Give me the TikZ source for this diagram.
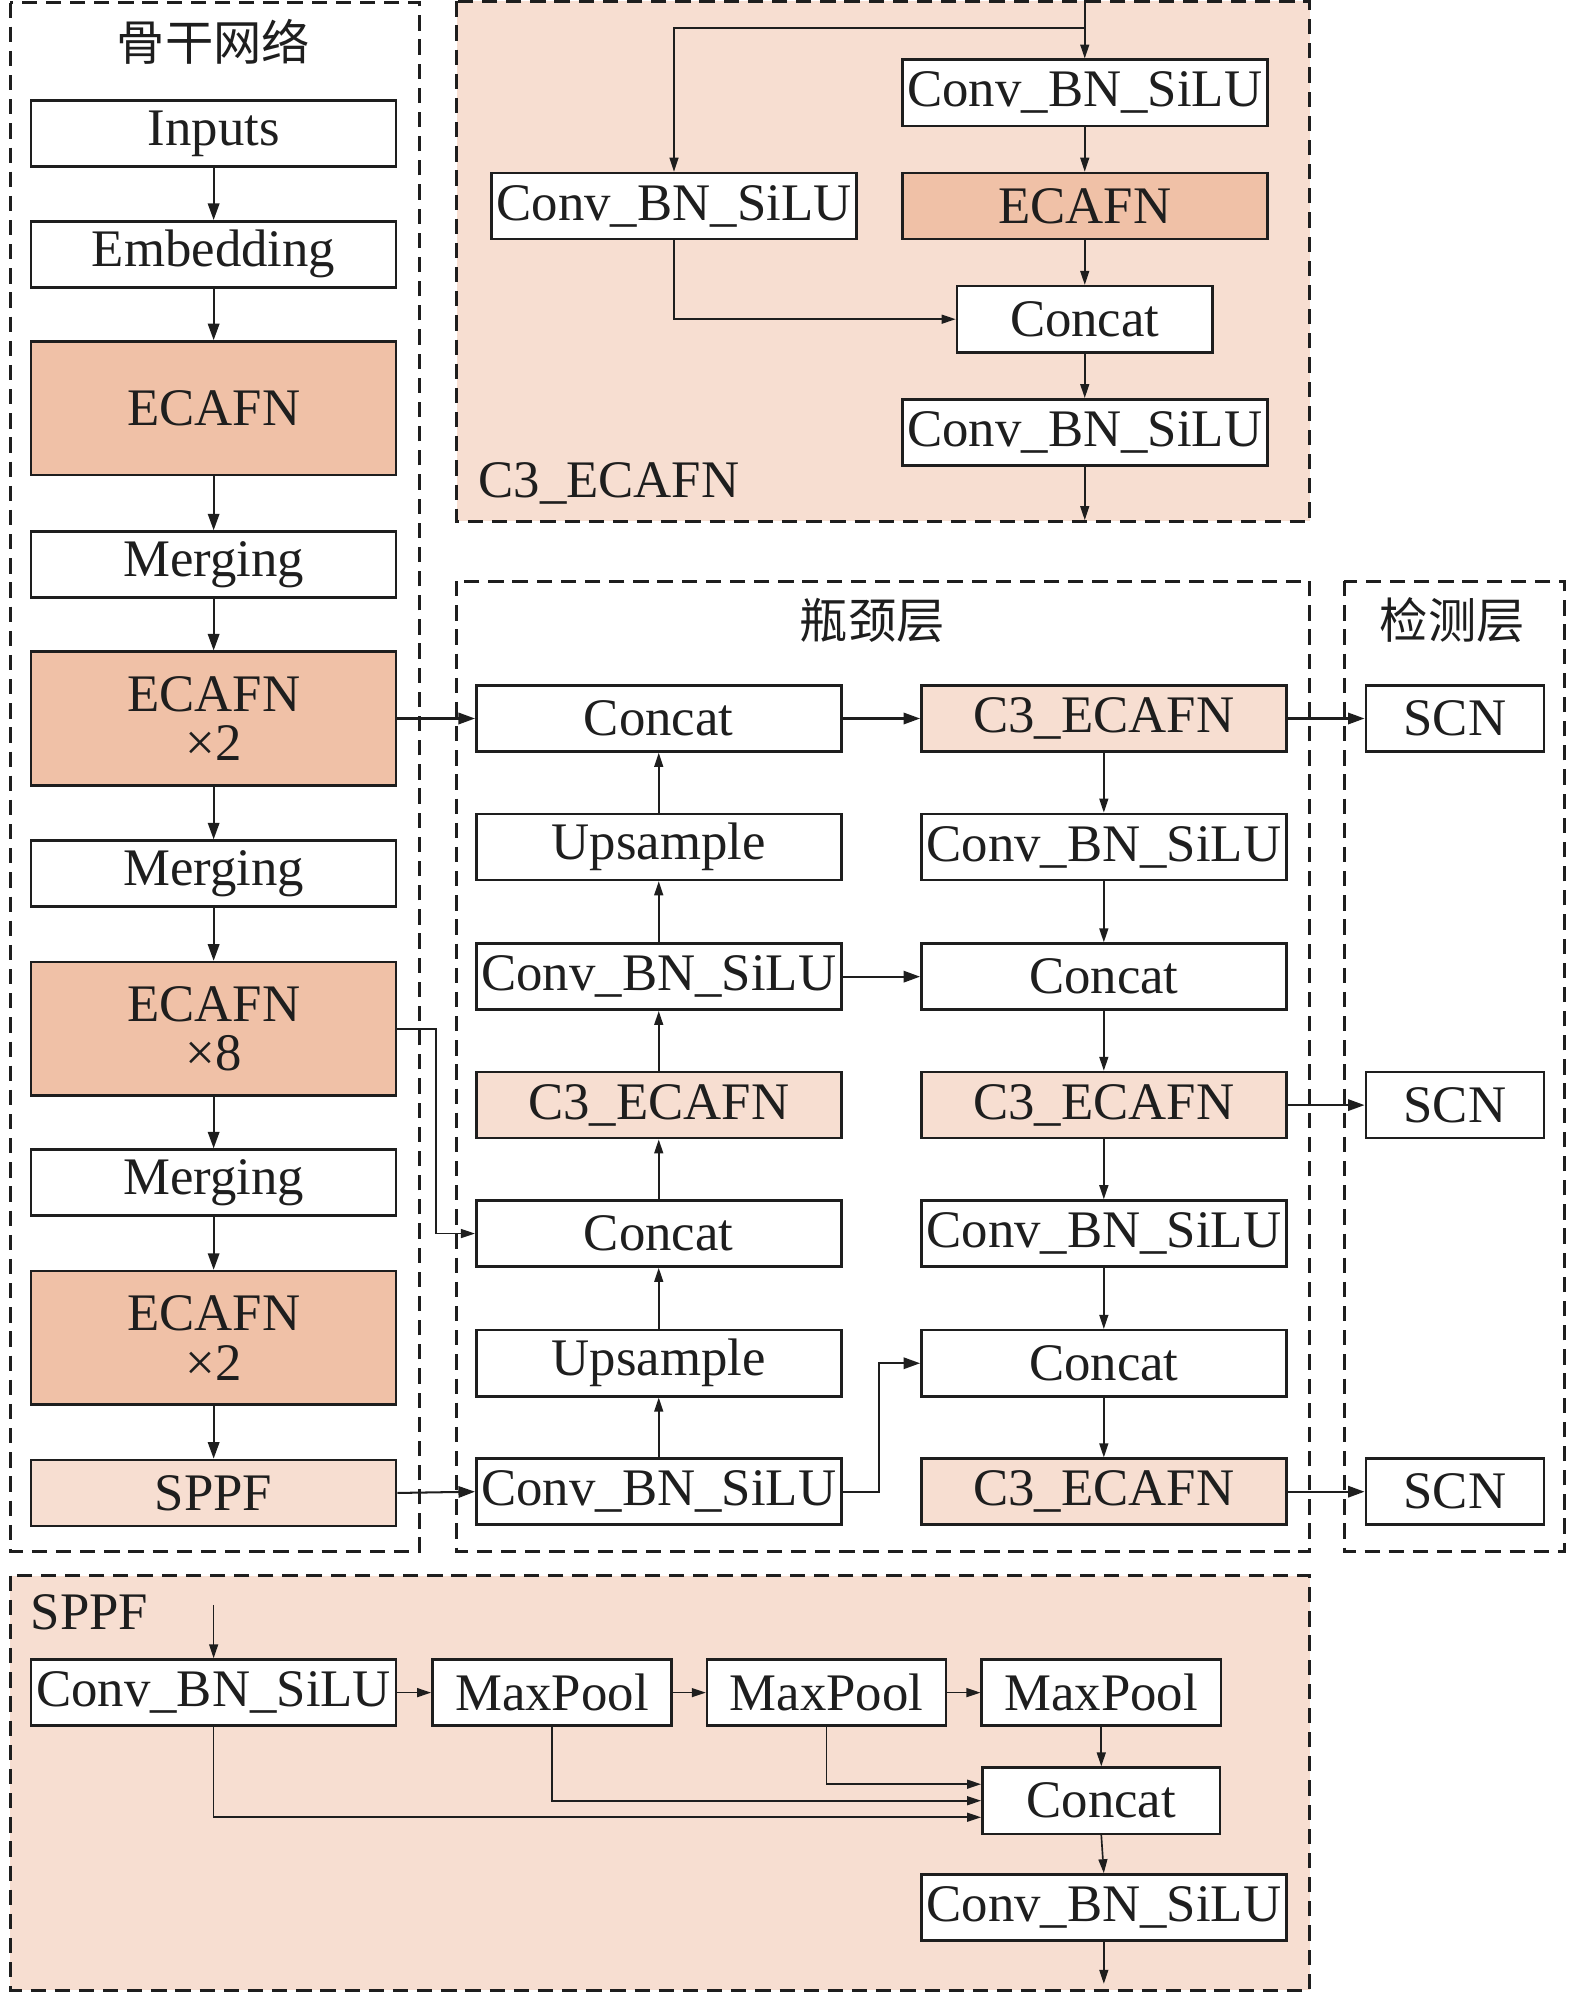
\documentclass[tikz,border=0pt]{standalone}
\usepackage{fontspec}
\setmainfont{Liberation Serif}
\newfontfamily\cjk{Noto Sans CJK SC}
\usetikzlibrary{arrows.meta}
\definecolor{darkpeach}{HTML}{F0C1A7}
\definecolor{lightpeach}{HTML}{F7DED1}
\definecolor{ink}{HTML}{1E1E1E}
\tikzset{
  box/.style={draw=ink, line width=2pt, fill=white, rectangle, inner sep=0pt,
    minimum height=52pt, font=\fontsize{41.5}{43}\selectfont, text=ink, align=center},
  wbox/.style={box, minimum width=287pt},
  tall/.style={box, minimum width=287pt, minimum height=105pt, fill=darkpeach},
  dk/.style={fill=darkpeach},
  lt/.style={fill=lightpeach},
  region/.style={draw=ink, line width=2.2pt, dash pattern=on 12pt off 7pt},
  arr/.style={draw=ink, line width=1.6pt, -{Triangle[length=13pt,width=9pt]}},
  sarr/.style={draw=ink, line width=1.3pt, -{Triangle[length=11pt,width=7pt]}},
  lbl/.style={font=\fontsize{41.5}{43}\selectfont, text=ink, inner sep=0pt},
  cjklbl/.style={font=\cjk\fontsize{38}{40}\selectfont, text=ink, inner sep=0pt}
}
\begin{document}
\begin{tikzpicture}[x=1pt,y=1pt]
\useasboundingbox (0,0) rectangle (1239,-1568);
% ---------- regions ----------
\fill[lightpeach] (359,-1) rectangle (1030,-410);
\draw[region] (359,-1) rectangle (1030,-410);
\fill[lightpeach] (8,-1239) rectangle (1030,-1565);
\draw[region] (8,-1239) rectangle (1030,-1565);
\draw[region] (8,-2) rectangle (330,-1220);
\draw[region] (359,-457) rectangle (1030,-1220);
\draw[region] (1057,-457) rectangle (1230,-1220);
\node[cjklbl] (tb) at (168,-33) {骨干网络};
\node[cjklbl] (tn) at (686,-488) {瓶颈层};
\node[cjklbl] (td) at (1142,-488) {检测层};
\node[lbl, anchor=west] (tc3) at (376,-380) {C3\_ECAFN};
\node[lbl, anchor=west] (tsp) at (24,-1268) {SPPF};
% ---------- backbone ----------
\node[wbox] (in) at (168,-105) {Inputs};
\node[wbox] (emb) at (168,-200) {Embedding};
\node[tall] (e1) at (168,-321) {ECAFN};
\node[wbox] (m1) at (168,-444) {Merging};
\node[tall] (e2) at (168,-565) {ECAFN\\[-4pt]×2};
\node[wbox] (m2) at (168,-687) {Merging};
\node[tall] (e3) at (168,-809) {ECAFN\\[-4pt]×8};
\node[wbox] (m3) at (168,-930) {Merging};
\node[tall] (e4) at (168,-1052) {ECAFN\\[-4pt]×2};
\node[wbox, lt] (sp) at (168,-1174) {SPPF};
\foreach \a/\b in {in/emb,emb/e1,e1/m1,m1/e2,e2/m2,m2/e3,e3/m3,m3/e4,e4/sp}
  \draw[arr] (\a.south) -- (\b.north);
% ---------- neck ----------
\node[wbox] (l1) at (518,-565) {Concat};
\node[wbox] (l2) at (518,-666) {Upsample};
\node[wbox] (l3) at (518,-768) {Conv\_BN\_SiLU};
\node[wbox, lt] (l4) at (518,-869) {C3\_ECAFN};
\node[wbox] (l5) at (518,-970) {Concat};
\node[wbox] (l6) at (518,-1072) {Upsample};
\node[wbox] (l7) at (518,-1173) {Conv\_BN\_SiLU};
\node[wbox, lt] (r1) at (868,-565) {C3\_ECAFN};
\node[wbox] (r2) at (868,-666) {Conv\_BN\_SiLU};
\node[wbox] (r3) at (868,-768) {Concat};
\node[wbox, lt] (r4) at (868,-869) {C3\_ECAFN};
\node[wbox] (r5) at (868,-970) {Conv\_BN\_SiLU};
\node[wbox] (r6) at (868,-1072) {Concat};
\node[wbox, lt] (r7) at (868,-1173) {C3\_ECAFN};
\node[box, minimum width=140pt] (s1) at (1144,-565) {SCN};
\node[box, minimum width=140pt] (s2) at (1144,-869) {SCN};
\node[box, minimum width=140pt] (s3) at (1144,-1173) {SCN};
\foreach \a/\b in {l7/l6,l6/l5,l5/l4,l4/l3,l3/l2,l2/l1}
  \draw[sarr] (\a.north) -- (\b.south);
\foreach \a/\b in {r1/r2,r2/r3,r3/r4,r4/r5,r5/r6,r6/r7}
  \draw[sarr] (\a.south) -- (\b.north);
\draw[arr] (e2.east) -- (l1.west);
\draw[sarr] (e3.east) -- (343,-809) |- (l5.west);
\draw[arr] (sp.east) -- (l7.west);
\draw[arr] (l1.east) -- (r1.west);
\draw[arr] (l3.east) -- (r3.west);
\draw[arr] (l7.east) -- (691,-1173) |- (r6.west);
\draw[arr] (r1.east) -- (s1.west);
\draw[arr] (r4.east) -- (s2.west);
\draw[arr] (r7.east) -- (s3.west);
% ---------- C3_ECAFN detail ----------
\coordinate (cin) at (853,0);
\coordinate (cout) at (853,-409);
\node[wbox] (c1) at (853,-73) {Conv\_BN\_SiLU};
\node[wbox] (c2) at (530,-162) {Conv\_BN\_SiLU};
\node[wbox, dk] (c3) at (853,-162) {ECAFN};
\node[box, minimum width=201pt] (c4) at (853,-251) {Concat};
\node[wbox] (c5) at (853,-340) {Conv\_BN\_SiLU};
\draw[sarr] (cin) -- (c1.north);
\draw[sarr] (853,-22) -| (c2.north);
\draw[sarr] (c1.south) -- (c3.north);
\draw[sarr] (c3.south) -- (c4.north);
\draw[sarr] (c2.south) |- (c4.west);
\draw[sarr] (c4.south) -- (c5.north);
\draw[sarr] (c5.south) -- (cout);
% ---------- SPPF detail ----------
\coordinate (pin) at (168,-1262);
\coordinate (pout) at (868,-1560);
\node[wbox] (p1) at (168,-1331) {Conv\_BN\_SiLU};
\node[box, minimum width=188pt] (p2) at (434,-1331) {MaxPool};
\node[box, minimum width=188pt] (p3) at (650,-1331) {MaxPool};
\node[box, minimum width=188pt] (p4) at (866,-1331) {MaxPool};
\node[box, minimum width=187pt] (p5) at (866,-1416) {Concat};
\node[wbox] (p6) at (868,-1500) {Conv\_BN\_SiLU};
\draw[sarr] (pin) -- (p1.north);
\draw[sarr] (p1.east) -- (p2.west);
\draw[sarr] (p2.east) -- (p3.west);
\draw[sarr] (p3.east) -- (p4.west);
\draw[sarr] (p4.south) -- (p5.north);
\draw[sarr] (p3.south) |- ([yshift=13pt]p5.west);
\draw[sarr] (p2.south) |- (p5.west);
\draw[sarr] (p1.south) |- ([yshift=-13pt]p5.west);
\draw[sarr] (p5.south) -- (p6.north);
\draw[sarr] (p6.south) -- (pout);
\end{tikzpicture}
\end{document}
